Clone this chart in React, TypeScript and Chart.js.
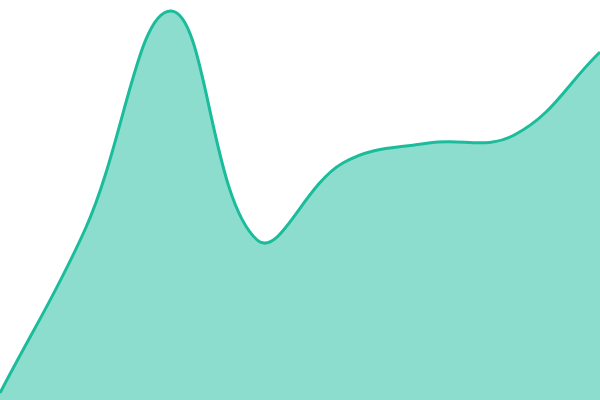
import Chart from "chart.js/auto";
import { useEffect, useRef } from "react";

const labels = ["Jan", "Feb", "Mar", "Apr", "May", "Jun", "Jul", "Aug"];
const values = [7, 172, 389, 160, 237, 257, 265, 348];
const yMin = 0;
const yMax = 400;

function AreaChart() {
  const chartRef = useRef<HTMLCanvasElement | null>(null);
  const chartInstance = useRef<Chart | null>(null);

  useEffect(() => {
    if (!chartRef.current) return;
    const ctx = chartRef.current.getContext("2d");
    if (!ctx) return;

    if (chartInstance.current) {
      chartInstance.current.destroy();
    }

    chartInstance.current = new Chart(ctx, {
      type: "line",
      data: {
        labels,
        datasets: [
          {
            data: values,
            borderColor: "#1abc9c",
            backgroundColor: "rgba(26, 188, 156, 0.5)",
            borderWidth: 3,
            fill: "origin",
            tension: 0.4,
            pointRadius: 0,
            pointHoverRadius: 0,
          },
        ],
      },
      options: {
        animation: false,
        responsive: true,
        maintainAspectRatio: false,
        layout: { padding: 0 },
        plugins: {
          legend: { display: false },
          tooltip: { enabled: false },
        },
        scales: {
          x: { display: false, offset: false },
          y: { display: false, min: yMin, max: yMax },
        },
      },
    });

    return () => {
      if (chartInstance.current) {
        chartInstance.current.destroy();
        chartInstance.current = null;
      }
    };
  }, []);

  return <canvas ref={chartRef} />;
}

export default function App() {
  return (
    <div
      style={{
        position: "fixed",
        top: 0,
        left: 0,
        width: 600,
        height: 400,
        background: "#fff",
      }}
    >
      <AreaChart />
    </div>
  );
}
